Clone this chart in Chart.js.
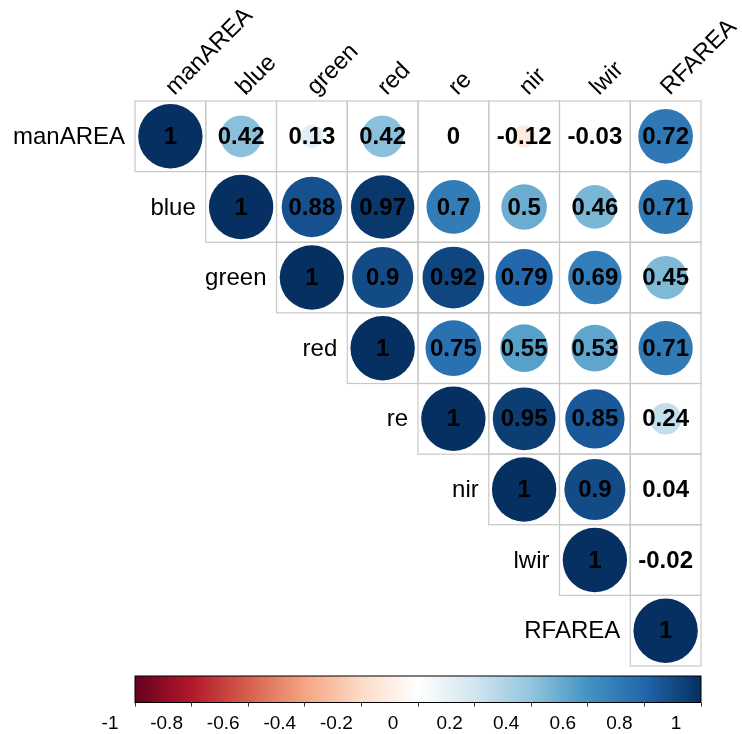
<!DOCTYPE html>
<html>
<head>
<meta charset="utf-8">
<script src="https://cdn.jsdelivr.net/npm/chart.js@4/dist/chart.umd.min.js"></script>
<style>
  html, body { margin: 0; padding: 0; background: #fff; }
  #wrap { position: relative; width: 742px; height: 734px; }
  #corr { position: absolute; left: 0; top: 0; }
  #legend { position: absolute; left: 0; top: 660px; }
</style>
</head>
<body>
<div id="wrap">
  <canvas id="corr" width="742" height="734"></canvas>
  <canvas id="legend" width="742" height="74"></canvas>
</div>
<script>
// variable names, same order for rows and columns
const vars = ["manAREA", "blue", "green", "red", "re", "nir", "lwir", "RFAREA"];

// upper triangle of the correlation matrix, row by row (starting at the diagonal)
const rowManArea = [1, 0.42, 0.13, 0.42, 0, -0.12, -0.03, 0.72];
const rowBlue    = [1, 0.88, 0.97, 0.7, 0.5, 0.46, 0.71];
const rowGreen   = [1, 0.9, 0.92, 0.79, 0.69, 0.45];
const rowRed     = [1, 0.75, 0.55, 0.53, 0.71];
const rowRe      = [1, 0.95, 0.85, 0.24];
const rowNir     = [1, 0.9, 0.04];
const rowLwir    = [1, -0.02];
const rowRfArea  = [1];

// colour legend
const legendTicks = [-1, -0.8, -0.6, -0.4, -0.2, 0, 0.2, 0.4, 0.6, 0.8, 1];
const rdBu = ["#67001F", "#B2182B", "#D6604D", "#F4A582", "#FDDBC7", "#FFFFFF",
              "#D1E5F0", "#92C5DE", "#4393C3", "#2166AC", "#053061"];

const rows = [rowManArea, rowBlue, rowGreen, rowRed, rowRe, rowNir, rowLwir, rowRfArea];

const points = [];
rows.forEach((vals, i) => {
  vals.forEach((v, k) => points.push({ x: i + k, y: i, v: v }));
});

function hexToRgb(h) {
  return [parseInt(h.slice(1, 3), 16), parseInt(h.slice(3, 5), 16), parseInt(h.slice(5, 7), 16)];
}

// interpolate the RdBu ramp at value v in [-1, 1]
function corrColor(v) {
  const t = (v + 1) / 2 * (rdBu.length - 1);
  const i = Math.min(Math.floor(t), rdBu.length - 2);
  const f = t - i;
  const a = hexToRgb(rdBu[i]), b = hexToRgb(rdBu[i + 1]);
  const c = a.map((x, n) => Math.round(x + (b[n] - x) * f));
  return `rgb(${c[0]},${c[1]},${c[2]})`;
}

const FONT = '"Liberation Sans", Arial, sans-serif';

// circle radius: area proportional to |r|, full circle nearly fills a cell
function circleRadius(ctx) {
  const chart = Chart.getChart("corr");
  if (!chart || !chart.scales.x || !ctx.raw) return 0;
  const s = chart.scales.x;
  const cell = s.getPixelForValue(1) - s.getPixelForValue(0);
  if (!isFinite(cell) || cell <= 0) return 0;
  return Math.sqrt(Math.abs(ctx.raw.v)) * cell * 0.455;
}

// cell borders, row/column names and the numbers
const corrDecor = {
  id: "corrDecor",
  beforeDatasetsDraw(chart) {
    const { ctx, scales: { x, y } } = chart;
    ctx.save();
    ctx.strokeStyle = "#c8c8c8";
    ctx.lineWidth = 1.2;
    points.forEach(p => {
      const x0 = x.getPixelForValue(p.x - 0.5), x1 = x.getPixelForValue(p.x + 0.5);
      const y0 = y.getPixelForValue(p.y - 0.5), y1 = y.getPixelForValue(p.y + 0.5);
      ctx.strokeRect(x0, y0, x1 - x0, y1 - y0);
    });
    ctx.restore();
  },
  afterDatasetsDraw(chart) {
    const { ctx, scales: { x, y } } = chart;
    ctx.save();
    ctx.fillStyle = "#000";

    // row names, left of the diagonal
    ctx.font = "24px " + FONT;
    ctx.textAlign = "right";
    ctx.textBaseline = "middle";
    vars.forEach((name, i) => {
      ctx.fillText(name, x.getPixelForValue(i - 0.5) - 10, y.getPixelForValue(i) + 1);
    });

    // column names, rotated on top
    ctx.textAlign = "left";
    ctx.textBaseline = "alphabetic";
    vars.forEach((name, j) => {
      ctx.save();
      ctx.translate(x.getPixelForValue(j) + 4, y.getPixelForValue(-0.5) - 5);
      ctx.rotate(-Math.PI / 4);
      ctx.fillText(name, 0, 0);
      ctx.restore();
    });

    // coefficients
    ctx.font = "bold 24px " + FONT;
    ctx.textAlign = "center";
    ctx.textBaseline = "middle";
    const meta = chart.getDatasetMeta(0);
    meta.data.forEach((el, n) => {
      ctx.fillText(String(points[n].v), el.x, el.y + 1);
    });
    ctx.restore();
  }
};

const corrChart = new Chart(document.getElementById("corr"), {
  type: "bubble",
  data: {
    datasets: [{
      data: points,
      backgroundColor: ctx => ctx.raw ? corrColor(ctx.raw.v) : "#000",
      borderWidth: 0,
      radius: circleRadius,
      hoverRadius: 0,
      clip: false
    }]
  },
  options: {
    responsive: false,
    devicePixelRatio: 1,
    animation: false,
    events: [],
    layout: { padding: { left: 135, top: 101, right: 41, bottom: 68 } },
    scales: {
      x: { type: "linear", min: -0.5, max: 7.5, display: false },
      y: { type: "linear", min: -0.5, max: 7.5, reverse: true, display: false }
    },
    plugins: { legend: { display: false }, tooltip: { enabled: false } }
  },
  plugins: [corrDecor]
});
// bubble radii are read while parsing, before the scales are laid out:
// hand over a fresh array so the data is parsed again with the final scales
corrChart.data.datasets[0].data = points.slice();
corrChart.update();

// gradient bar of the colour legend
const colorBar = {
  id: "colorBar",
  beforeDatasetsDraw(chart) {
    const { ctx, chartArea: a, scales: { x } } = chart;
    const g = ctx.createLinearGradient(x.getPixelForValue(-1), 0, x.getPixelForValue(1), 0);
    legendTicks.forEach((t, i) => g.addColorStop((t + 1) / 2, rdBu[i]));
    ctx.save();
    ctx.fillStyle = g;
    ctx.fillRect(a.left, a.top, a.right - a.left, a.bottom - a.top);
    ctx.strokeStyle = "#000";
    ctx.lineWidth = 1;
    ctx.strokeRect(a.left, a.top, a.right - a.left, a.bottom - a.top);
    ctx.restore();
  }
};

new Chart(document.getElementById("legend"), {
  type: "scatter",
  data: { datasets: [{ data: [] }] },
  options: {
    responsive: false,
    devicePixelRatio: 1,
    animation: false,
    events: [],
    layout: { padding: { left: 135, right: 41, top: 16, bottom: 5 } },
    scales: {
      x: {
        type: "linear", min: -1, max: 1,
        afterBuildTicks: s => { s.ticks = legendTicks.map(v => ({ value: v })); },
        border: { display: false },
        grid: { drawOnChartArea: false, tickLength: 4, color: "#333", lineWidth: 1 },
        ticks: {
          autoSkip: false, maxRotation: 0, padding: 6, labelOffset: -25,
          color: "#000", font: { size: 19, family: FONT },
          callback: v => String(Math.round(v * 10) / 10)
        }
      },
      y: { display: false, min: 0, max: 1 }
    },
    plugins: { legend: { display: false }, tooltip: { enabled: false } }
  },
  plugins: [colorBar]
});
</script>
</body>
</html>
